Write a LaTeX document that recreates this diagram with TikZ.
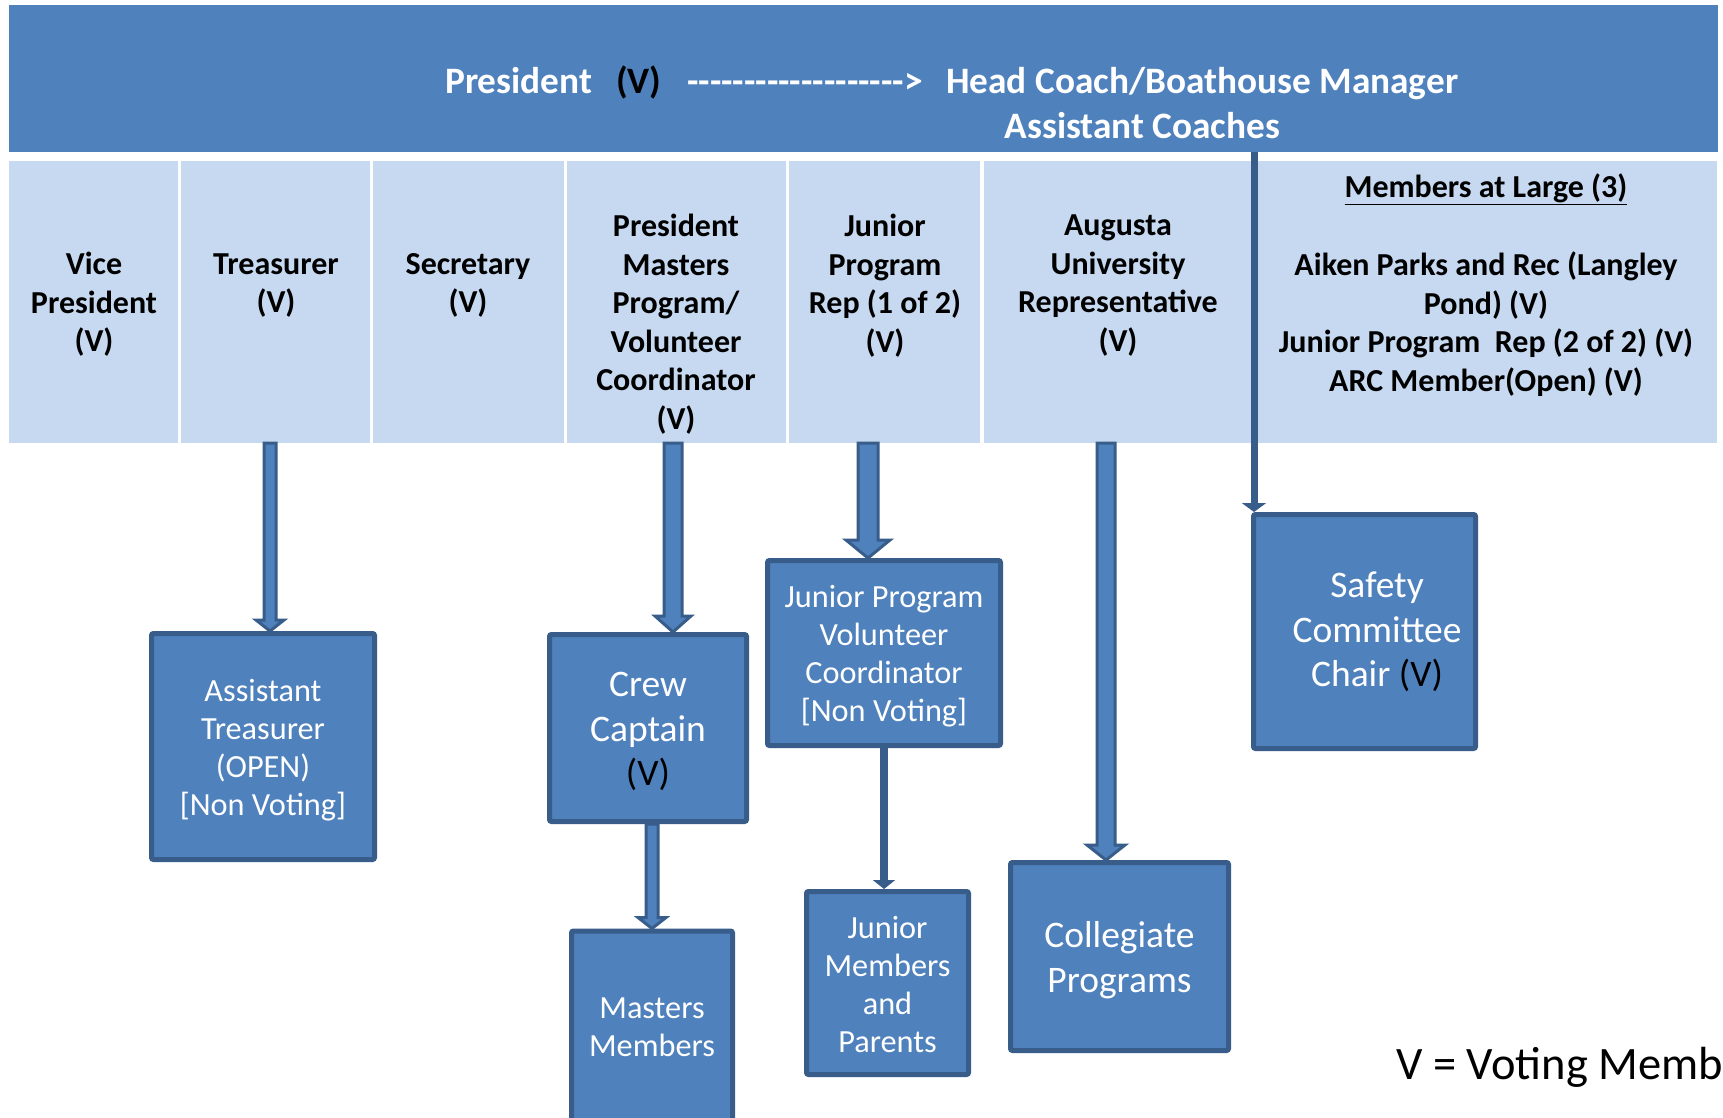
\documentclass[tikz,border=0pt]{standalone}
\usepackage{fontspec}
\setmainfont{Carlito}
\usetikzlibrary{arrows.meta,calc}

\definecolor{hdrblue}{HTML}{4F81BD}
\definecolor{cellblue}{HTML}{C6D9F0}
\definecolor{edgeblue}{HTML}{385D8A}

\newcommand{\blockarr}[6]{%
	\draw[arrowline] let \p1=(#2.south), \p2=(#3.north) in
		(#1pt-#4pt,\y1) -- (#1pt-#4pt,\y2+#6pt) -- (#1pt-#5pt,\y2+#6pt) -- (#1pt,\y2)
		-- (#1pt+#5pt,\y2+#6pt) -- (#1pt+#4pt,\y2+#6pt) -- (#1pt+#4pt,\y1) -- cycle;}

\begin{document}
\begin{tikzpicture}[x=1pt,y=-1pt]
		\tikzset{cell/.style = {fill=cellblue, inner sep=0, minimum height=282pt},
			celltext/.style = {align=center, inner sep=0, font=\fontsize{32}{38.5}\selectfont\bfseries},
			box/.style = {draw=edgeblue, fill=hdrblue, line width=5pt, rounded corners=2pt, inner sep=0},
			boxtext/.style = {align=center, inner sep=0, text=white, font=\fontsize{32.3}{38}\selectfont},
			bigtext/.style = {font=\fontsize{37.5}{44.5}\selectfont},
			hdrtext/.style = {anchor=base west, inner sep=0, text=white, font=\fontsize{37.3}{45}\selectfont\bfseries},
			arrowline/.style = {draw=edgeblue, fill=hdrblue, line width=3pt, line join=miter},
			darkline/.style = {draw=edgeblue, line width=7pt}}

		\fill[white] (0,0) rectangle (1723,1118);
		\clip (0,0) rectangle (1723,1118);

		\node[fill=hdrblue, inner sep=0, minimum width=1709pt, minimum height=147pt] (hdr) at (863.5,78.5) {};
		\node[hdrtext] (pres) at (445,94) {President};
		\node[hdrtext, text=black] (presv) at (616,94) {(V)};
		\node[hdrtext] (dashes) at (687,94) {\foreach \k in {1,...,19}{-}>};
		\node[hdrtext] (headcoach) at (946,94) {Head Coach/Boathouse Manager};
		\node[hdrtext] (asstcoach) at (1004.5,139) {Assistant Coaches};

		\node[cell, minimum width=169pt] (vpcell) at (93.5,302) {};
		\node[cell, minimum width=189pt] (treascell) at (275.5,302) {};
		\node[cell, minimum width=191pt] (seccell) at (468.5,302) {};
		\node[cell, minimum width=219pt] (pmpcell) at (676.5,302) {};
		\node[cell, minimum width=191pt] (jrcell) at (884.5,302) {};
		\node[cell, minimum width=270pt] (augcell) at (1119,302) {};
		\node[cell, minimum width=463pt] (malcell) at (1485.5,302) {};

		\node[celltext] (vp) at (94,304.5) {Vice\\President\\(V)};
		\node[celltext] (treas) at (276,285.5) {Treasurer\\(V)};
		\node[celltext] (sec) at (468,285.5) {Secretary\\(V)};
		\node[celltext] (pmp) at (676,324) {President\\Masters\\Program/\\Volunteer\\Coordinator\\(V)};
		\node[celltext] (jr) at (885,285.5) {Junior\\Program\\Rep (1 of 2)\\(V)};
		\node[celltext] (aug) at (1118,285.5) {Augusta\\University\\Representative\\(V)};
		\node[celltext, anchor=base] (maltitle) at (1486,197) {\underline{Members at Large (3)}};
		\node[celltext] (mal) at (1486,324) {Aiken Parks and Rec (Langley\\Pond) (V)\\Junior Program\ \ Rep (2 of 2) (V)\\ARC Member(Open) (V)};

		\node[box, minimum width=223pt, minimum height=226pt] (atreas) at (263,746.5) {};
		\node[box, minimum width=197pt, minimum height=187pt] (crew) at (648,728) {};
		\node[box, minimum width=233pt, minimum height=185pt] (jpvc) at (884,653) {};
		\node[box, minimum width=222pt, minimum height=234pt] (safety) at (1364.5,631.5) {};
		\node[box, minimum width=161pt, minimum height=195pt] (masters) at (652,1028.5) {};
		\node[box, minimum width=162pt, minimum height=183pt] (jmem) at (887.5,983) {};
		\node[box, minimum width=218pt, minimum height=188pt] (coll) at (1119.5,956.5) {};

		\node[boxtext] (atreastxt) at (263,750) {Assistant\\Treasurer\\(OPEN)\\[0pt][Non Voting]};
		\node[boxtext, bigtext] (crewtxt) at (648,731.5) {Crew\\Captain\\{\color{black}(V)}};
		\node[boxtext] (jpvctxt) at (884,656.5) {Junior Program\\Volunteer\\Coordinator\\[0pt][Non Voting]};
		\node[boxtext, bigtext] (safetytxt) at (1377,632) {Safety\\Committee\\Chair {\color{black}(V)}};
		\node[boxtext] (masterstxt) at (652,1027) {Masters\\Members};
		\node[boxtext] (jmemtxt) at (887.5,984.5) {Junior\\Members\\and\\Parents};
		\node[boxtext, bigtext] (colltxt) at (1119.5,960) {Collegiate\\Programs};

		\blockarr{270}{treascell}{atreas}{6}{14}{11}
		\blockarr{673}{pmpcell}{crew}{9}{18}{16}
		\blockarr{868}{jrcell}{jpvc}{10}{22}{18}
		\blockarr{1106}{augcell}{coll}{9}{19}{15}
		\blockarr{652}{crew}{masters}{6}{14}{11}

		\draw[darkline, -{Triangle[width=24pt,length=9pt]}] ([xshift=3pt]safety.north west |- hdr.south) -- ([xshift=3pt]safety.north west);
		\draw[darkline, line width=8pt, -{Triangle[width=22pt,length=9pt]}] (jpvc.south) -- (jpvc.south |- jmem.north);

		\node[anchor=base west, inner sep=0, font=\fontsize{46.5}{55}\selectfont] (legend) at (1396,1079) {V = Voting Members};

	\end{tikzpicture}
\end{document}
